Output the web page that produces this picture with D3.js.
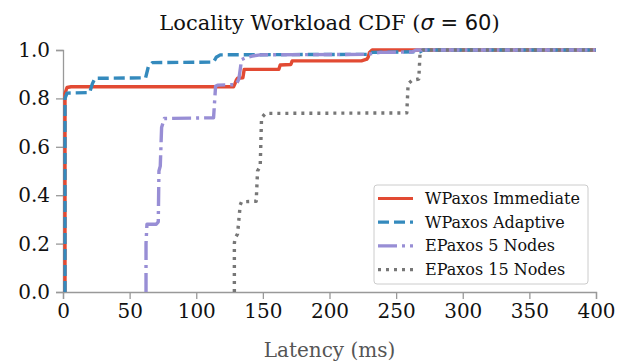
<!DOCTYPE html>
<html>
<head>
<meta charset="utf-8">
<script src="https://cdn.jsdelivr.net/npm/d3@7.9.0/dist/d3.min.js"></script>
<style>
  html, body { margin: 0; padding: 0; background: #fff; }
  svg { display: block; font-family: "DejaVu Serif", serif; }
</style>
</head>
<body>
<svg id="chart" width="617" height="362"></svg>
<script>
// CDF points (latency ms -> fraction)
const immLat = [1.5, 1.5, 3, 6, 128, 129, 130, 131, 135, 136, 162, 163, 171, 172, 224, 228, 229, 230, 232, 400];
const immCdf = [0, 0.82, 0.845, 0.848, 0.848, 0.86, 0.875, 0.883, 0.885, 0.92, 0.92, 0.938, 0.94, 0.955, 0.955, 0.962, 0.97, 0.99, 1.0, 1.0];

const adpLat = [1.5, 1.5, 3, 20, 22, 24, 62, 64, 67, 113, 115, 118, 228, 232, 268, 270, 400];
const adpCdf = [0, 0.8, 0.822, 0.824, 0.86, 0.883, 0.885, 0.93, 0.948, 0.95, 0.97, 0.98, 0.982, 0.99, 0.993, 1.0, 1.0];

const ep5Lat = [62.3, 62.3, 63, 70, 71.5, 72, 73, 74, 76, 113, 114.5, 116, 130, 132, 134, 137, 142, 148, 228, 238, 262, 265, 400];
const ep5Cdf = [0, 0.2, 0.28, 0.28, 0.29, 0.5, 0.52, 0.68, 0.717, 0.72, 0.85, 0.855, 0.857, 0.88, 0.96, 0.968, 0.975, 0.98, 0.982, 0.99, 0.992, 1.0, 1.0];

const ep15Lat = [128.6, 128.6, 129, 131, 133, 134, 145, 146, 148, 149, 152, 258, 259, 261, 262, 267, 268, 270, 400];
const ep15Cdf = [0, 0.2, 0.22, 0.24, 0.36, 0.373, 0.375, 0.5, 0.52, 0.72, 0.738, 0.74, 0.86, 0.87, 0.875, 0.88, 0.99, 1.0, 1.0];

const xTicks = [0, 50, 100, 150, 200, 250, 300, 350, 400];
const yTicks = [0, 0.2, 0.4, 0.6, 0.8, 1.0];

const series = [
  { name: 'WPaxos Immediate', lat: immLat, cdf: immCdf, color: '#E24A33', dash: null },
  { name: 'WPaxos Adaptive',  lat: adpLat, cdf: adpCdf, color: '#348ABD', dash: '11,5' },
  { name: 'EPaxos 5 Nodes',   lat: ep5Lat, cdf: ep5Cdf, color: '#988ED5', dash: '19,5,3,5' },
  { name: 'EPaxos 15 Nodes',  lat: ep15Lat, cdf: ep15Cdf, color: '#777777', dash: '3,5' }
];

const svg = d3.select('#chart');
const m = { left: 63, right: 21, top: 50, bottom: 70 };
const W = 617, H = 362;

const x = d3.scaleLinear().domain([0, 400]).range([m.left, W - m.right]);
const y = d3.scaleLinear().domain([0, 1]).range([H - m.bottom, m.top]);

const spine = '#999';

// axes
const gx = svg.append('g').attr('transform', `translate(0,${H - m.bottom})`)
  .call(d3.axisBottom(x).tickValues(xTicks).tickFormat(d3.format('d')).tickSize(7).tickPadding(5));
const gy = svg.append('g').attr('transform', `translate(${m.left},0)`)
  .call(d3.axisLeft(y).tickValues(yTicks).tickFormat(d3.format('.1f')).tickSize(7).tickPadding(6));
[gx, gy].forEach(g => {
  g.select('.domain').attr('stroke', spine).attr('stroke-width', 1.3);
  g.selectAll('.tick line').attr('stroke', spine).attr('stroke-width', 1.3);
  g.selectAll('.tick text').attr('fill', '#111').style('font-family', '"DejaVu Serif", serif').style('font-size', '20px');
});

// lines
const line = d3.line().x(d => x(d[0])).y(d => y(d[1]));
series.forEach(s => {
  svg.append('path')
    .datum(d3.zip(s.lat, s.cdf))
    .attr('d', line)
    .attr('fill', 'none')
    .attr('stroke', s.color)
    .attr('stroke-width', 3.4)
    .attr('stroke-dasharray', s.dash)
    .attr('stroke-linejoin', 'round');
});

// title
const title = svg.append('text')
  .attr('x', (m.left + W - m.right) / 2).attr('y', 30)
  .attr('text-anchor', 'middle').style('font-size', '21px').attr('fill', '#111');
title.append('tspan').text('Locality Workload CDF (');
title.append('tspan').style('font-family', '"DejaVu Sans", sans-serif').style('font-style', 'italic').text('σ');
title.append('tspan').style('font-family', '"DejaVu Sans", sans-serif').text(' = 60');
title.append('tspan').text(')');

// x label
svg.append('text')
  .attr('x', (m.left + W - m.right) / 2).attr('y', 357)
  .attr('text-anchor', 'middle').style('font-size', '20px').attr('fill', '#555')
  .text('Latency (ms)');

// legend
const lg = svg.append('g');
lg.append('rect')
  .attr('x', 374).attr('y', 185).attr('width', 214).attr('height', 99)
  .attr('rx', 3).attr('fill', '#fff').attr('fill-opacity', 0.85)
  .attr('stroke', '#ccc').attr('stroke-width', 1);
series.forEach((s, i) => {
  const cy = 198.5 + i * 23.7;
  lg.append('line')
    .attr('x1', 378).attr('x2', 413).attr('y1', cy).attr('y2', cy)
    .attr('stroke', s.color).attr('stroke-width', 3.2)
    .attr('stroke-dasharray', s.dash);
  lg.append('text')
    .attr('x', 425).attr('y', cy + 5.5)
    .style('font-size', '16px').attr('fill', '#111')
    .text(s.name);
});
</script>
</body>
</html>
